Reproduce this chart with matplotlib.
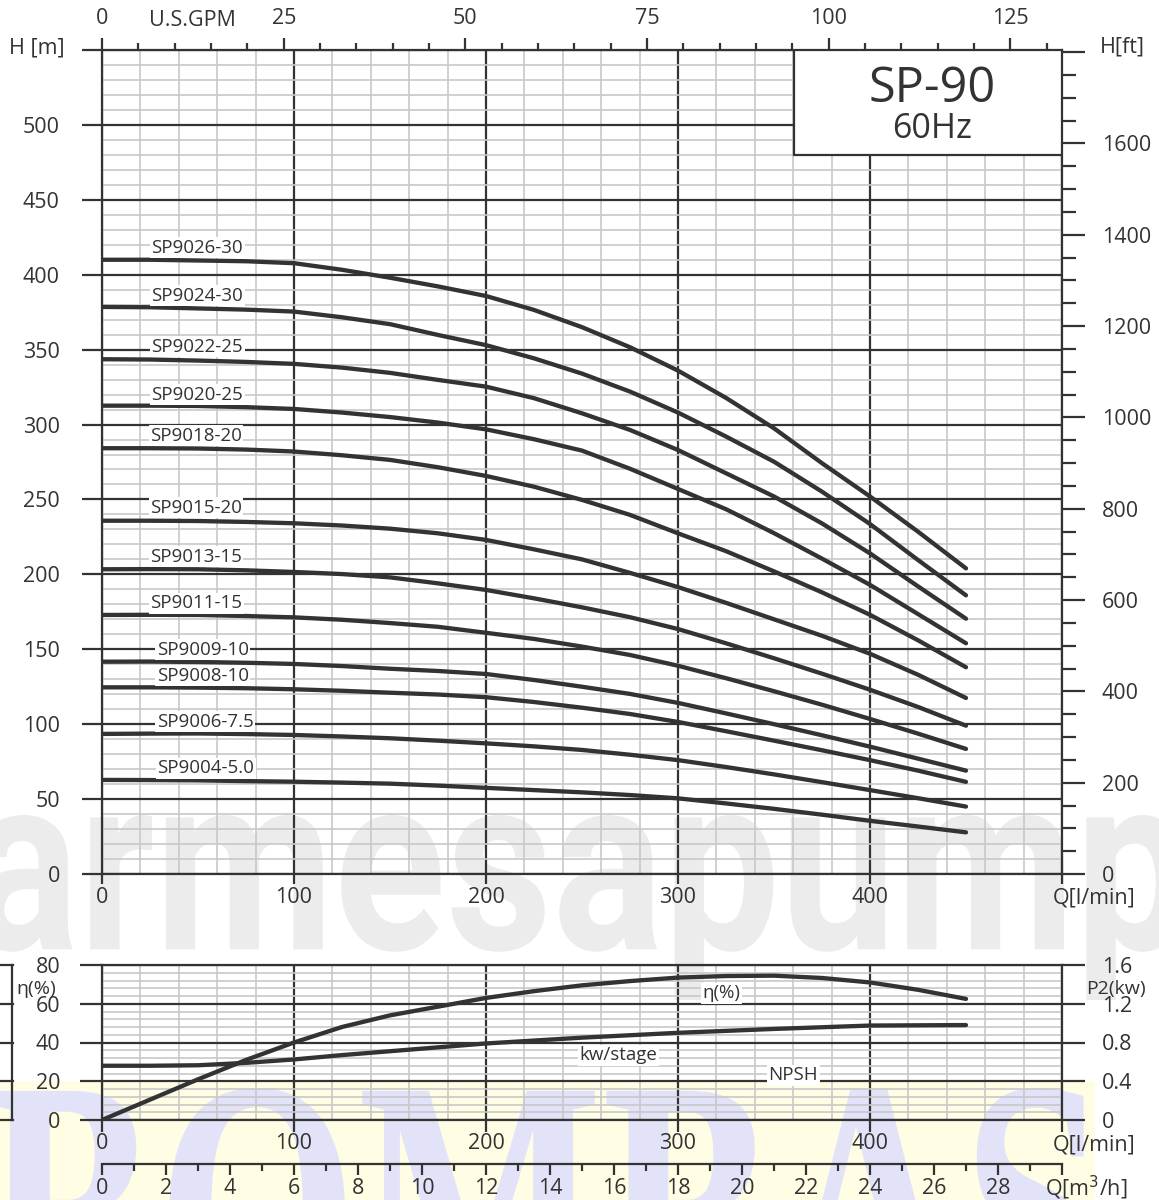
import matplotlib
matplotlib.use('Agg')
import matplotlib.pyplot as plt
from matplotlib.ticker import MultipleLocator, FixedLocator, FuncFormatter
from matplotlib.textpath import TextPath
from matplotlib.font_manager import FontProperties
from matplotlib.patches import PathPatch, Rectangle
from matplotlib.transforms import Affine2D
from matplotlib.lines import Line2D

plt.rcParams['font.family'] = ['Open Sans', 'DejaVu Sans']

# --- data ----------------------------------------------------------------
q = [0, 25, 50, 75, 100, 125, 150, 175, 200, 225, 250, 275, 300, 325, 350, 375, 400, 425, 450]  # l/min

h_9026_30 = [410, 410, 409.5, 409, 407.7, 403.3, 398, 392.2, 385.8, 376.5, 365, 351.6, 336, 317.8, 297.5, 274.2, 252, 228.5, 204]
h_9024_30 = [378.5, 378.3, 377.5, 376.7, 375.4, 371.6, 367, 359.8, 353, 344.2, 334, 322, 308, 292, 275.2, 255.2, 233.6, 209.6, 186]
h_9022_25 = [343.6, 343.4, 342.7, 341.8, 340.5, 338, 334.5, 329.8, 325.3, 317.6, 307.5, 296.4, 283, 267.5, 252, 234, 214, 192, 170.4]
h_9020_25 = [312.6, 312.6, 312.4, 311.6, 310.4, 308, 305, 301.3, 296.8, 290.2, 282.6, 270.5, 257, 243.5, 227.5, 210.5, 193, 173.5, 154]
h_9018_20 = [284.2, 284.2, 284, 283.3, 282, 279.5, 276.4, 271.5, 265.7, 258.5, 249.7, 239.7, 227.4, 215.5, 202, 188, 173, 156, 138]
h_9015_20 = [235.8, 235.8, 235.6, 235, 234.1, 232.6, 230.5, 227.4, 223, 216.7, 210, 201, 191.5, 181, 170, 159, 147, 133, 117.5]
h_9013_15 = [203.4, 203.5, 203.4, 202.7, 201.6, 200.2, 198, 194, 189.6, 184, 178, 171.4, 163.5, 154, 144, 133.7, 123, 111.5, 99]
h_9011_15 = [172.9, 173, 172.9, 172.2, 171.3, 169.7, 167.5, 165, 161, 156.9, 151.8, 146.2, 139, 130.7, 122, 113, 103.5, 93.7, 83.5]
h_9009_10 = [141.7, 141.8, 141.5, 141, 140.2, 138.8, 137, 135.5, 133.5, 129.5, 125, 120.2, 114.2, 107.2, 100, 92.6, 85, 77, 69]
h_9008_10 = [124.6, 124.6, 124.4, 124, 123.3, 122.3, 121, 119.8, 118, 114.8, 111, 106.8, 101.5, 95.3, 89, 82.6, 76, 69, 61.5]
h_9006_75 = [93.5, 93.7, 93.8, 93.4, 92.8, 91.8, 90.6, 89, 87.2, 85.2, 82.8, 79.6, 76, 71.4, 66.5, 61.3, 56, 50.6, 45]
h_9004_50 = [62.8, 62.7, 62.5, 62, 61.6, 61, 60.3, 59, 57.5, 56, 54.5, 52.7, 50.5, 47.1, 43.5, 39.6, 35.5, 31.7, 27.8]

models = ['SP9026-30', 'SP9024-30', 'SP9022-25', 'SP9020-25', 'SP9018-20',
          'SP9015-20', 'SP9013-15', 'SP9011-15', 'SP9009-10', 'SP9008-10',
          'SP9006-7.5', 'SP9004-5.0']
heads = [h_9026_30, h_9024_30, h_9022_25, h_9020_25, h_9018_20, h_9015_20,
         h_9013_15, h_9011_15, h_9009_10, h_9008_10, h_9006_75, h_9004_50]

eta_q = [0, 25, 50, 75, 100, 125, 150, 175, 200, 225, 250, 275, 300, 325, 350, 375, 400, 425, 450]
eta = [0, 10.5, 21, 31, 40, 48, 54, 58.5, 63, 66.5, 69.5, 71.7, 73.5, 74.3, 74.5, 73.3, 71, 67.2, 62.5]

kw_q = [0, 25, 50, 75, 100, 125, 150, 175, 200, 250, 300, 350, 400, 450]
kw = [0.56, 0.56, 0.565, 0.59, 0.625, 0.67, 0.71, 0.75, 0.79, 0.85, 0.90, 0.94, 0.975, 0.98]

gpm_major = [0, 25, 50, 75, 100, 125]
LPM_PER_GPM = 3.785411784
FT_PER_M = 3.28084

# label anchors (Q, H) for the curve names
label_pos = [(25.8, 414.8), (25.8, 382.5), (25.8, 348.7), (25.8, 316.4),
             (25, 289.3), (25, 241.2), (25, 208.5), (25, 177.4),
             (28.5, 146.2), (28.5, 129), (28.5, 98.3), (28.8, 67.2)]

# --- figure -----------------------------------------------------------------
W, H = 1159, 1200
DARK = '#333333'
LIGHT = '#c8c8c8'
fig = plt.figure(figsize=(W / 100, H / 100), dpi=100)


def fx(px):
    return px / W


def fy(py):
    return 1 - py / H


def stamp(text, family, weight, x0, y0, width, height, color, z):
    # big watermark text squeezed into a pixel box (x0, y0 = top-left)
    tp = TextPath((0, 0), text, size=100, prop=FontProperties(family=family, weight=weight))
    bb = tp.get_extents()
    tr = Affine2D().translate(-bb.x0, -bb.y0).scale(width / bb.width, height / bb.height) \
        .translate(x0, H - y0 - height)
    fig.add_artist(PathPatch(tp, transform=tr, fc=color, ec='none', zorder=z))


# watermarks behind everything
stamp('armesapump', 'Roboto', 'bold', -25, 815, 1210, 185, '#ececec', -3)
fig.add_artist(Rectangle((0, 0), fx(1095), fy(1081), transform=fig.transFigure,
                         fc='#fffde3', ec='none', zorder=-2))
stamp('BOMBAS', 'Liberation Serif', 'bold', -12, 1088, 1107, 260, '#e2e3f8', -1)

# --- main H-Q chart -----------------------------------------------------------
ax = fig.add_axes([fx(102), fy(874), fx(1062) - fx(102), fy(50) - fy(874)])
ax.patch.set_alpha(0)
ax.set_xlim(0, 500)
ax.set_ylim(0, 550)
ax.set_axisbelow(True)
ax.xaxis.set_major_locator(MultipleLocator(100))
ax.xaxis.set_minor_locator(MultipleLocator(20))
ax.yaxis.set_major_locator(MultipleLocator(50))
ax.yaxis.set_minor_locator(MultipleLocator(10))
ax.grid(which='minor', color=LIGHT, lw=1.2)
ax.grid(which='major', color=DARK, lw=1.6)
ax.xaxis.set_major_formatter(FuncFormatter(lambda v, p: '' if v >= 500 else f'{v:.0f}'))
ax.yaxis.set_major_formatter(FuncFormatter(lambda v, p: '' if v > 500 else f'{v:.0f}'))
ax.tick_params(axis='y', which='major', length=14.4, width=1.6, color=DARK, pad=16,
               labelsize=15.5, labelcolor=DARK)
ax.tick_params(axis='x', which='major', length=7.5, width=1.6, color=DARK, pad=2,
               labelsize=15.5, labelcolor=DARK)
ax.tick_params(which='minor', length=0)
for s in ax.spines.values():
    s.set_color(DARK)
    s.set_linewidth(1.6)

for name, h, (lx, ly) in zip(models, heads, label_pos):
    ax.plot(q, h, color=DARK, lw=3.1, solid_capstyle='round', solid_joinstyle='round', zorder=3)
    ax.text(lx, ly, name, fontsize=13.5, color=DARK, ha='left', va='baseline', zorder=4,
            bbox=dict(boxstyle='square,pad=0.08', fc='white', ec='none'))

# model box
ax.add_patch(Rectangle((360.4, 480), 139.6, 70, fc='white', ec=DARK, lw=1.6, zorder=2.6))
ax.text(432.3, 515.4, 'SP-90', fontsize=35, color=DARK, ha='center', va='baseline', zorder=4)
ax.text(432.3, 491.3, '60Hz', fontsize=24.5, color=DARK, ha='center', va='baseline', zorder=4)

# top U.S.GPM scale
axt = ax.twiny()
axt.set_xlim(0, 500)
axt.xaxis.set_major_locator(FixedLocator([g * LPM_PER_GPM for g in gpm_major]))
axt.xaxis.set_major_formatter(FuncFormatter(lambda v, p: f'{v / LPM_PER_GPM:.0f}'))
axt.xaxis.set_minor_locator(FixedLocator([g * LPM_PER_GPM for g in range(0, 131, 5)]))
axt.tick_params(axis='x', which='major', length=9, width=1.6, color=DARK, pad=6,
                labelsize=15.5, labelcolor=DARK)
axt.tick_params(axis='x', which='minor', length=5, width=1.6, color=DARK)
for s in axt.spines.values():
    s.set_visible(False)

# right H[ft] scale
axr = ax.twinx()
axr.set_ylim(0, 550 * FT_PER_M)
axr.yaxis.set_major_locator(MultipleLocator(200))
axr.yaxis.set_minor_locator(MultipleLocator(50))
axr.yaxis.set_major_formatter(FuncFormatter(lambda v, p: '' if v > 1700 else f'{v:.0f}'))
axr.tick_params(axis='y', which='major', length=16.5, width=1.6, color=DARK, pad=12,
                labelsize=15.5, labelcolor=DARK)
axr.tick_params(axis='y', which='minor', length=10, width=1.6, color=DARK)
for s in axr.spines.values():
    s.set_visible(False)

fig.text(fx(37), fy(48), 'H [m]', fontsize=15.5, color=DARK, ha='center', va='center')
fig.text(fx(192), fy(20), 'U.S.GPM', fontsize=15.5, color=DARK, ha='center', va='center')
fig.text(fx(1122), fy(47), 'H[ft]', fontsize=15.5, color=DARK, ha='center', va='center')
fig.text(fx(1094), fy(898), 'Q[l/min]', fontsize=15.5, color=DARK, ha='center', va='center')

# --- lower efficiency / power chart ----------------------------------------
ax2 = fig.add_axes([fx(102), fy(1120), fx(1062) - fx(102), fy(965) - fy(1120)])
ax2.patch.set_alpha(0)
ax2.set_xlim(0, 500)
ax2.set_ylim(0, 80)
ax2.set_axisbelow(True)
ax2.xaxis.set_major_locator(MultipleLocator(100))
ax2.xaxis.set_minor_locator(MultipleLocator(20))
ax2.yaxis.set_major_locator(MultipleLocator(20))
ax2.yaxis.set_minor_locator(MultipleLocator(4))
ax2.grid(which='minor', color=LIGHT, lw=1.2)
ax2.grid(which='major', color=DARK, lw=1.6)
ax2.xaxis.set_major_formatter(FuncFormatter(lambda v, p: '' if v >= 500 else f'{v:.0f}'))
ax2.tick_params(axis='y', which='major', length=16, width=1.6, color=DARK, pad=14,
                labelsize=15.5, labelcolor=DARK)
ax2.tick_params(axis='x', which='major', length=8.5, width=1.6, color=DARK, pad=1,
                labelsize=15.5, labelcolor=DARK)
ax2.tick_params(which='minor', length=0)
for s in ax2.spines.values():
    s.set_color(DARK)
    s.set_linewidth(1.6)

ax2.plot(eta_q, eta, color=DARK, lw=3.1, solid_capstyle='round', solid_joinstyle='round', zorder=3)

ax2r = ax2.twinx()
ax2r.set_ylim(0, 1.6)
ax2r.yaxis.set_major_locator(MultipleLocator(0.4))
ax2r.yaxis.set_major_formatter(FuncFormatter(lambda v, p: '0' if v == 0 else f'{v:.1f}'))
ax2r.tick_params(axis='y', which='major', length=16.5, width=1.6, color=DARK, pad=12,
                 labelsize=15.5, labelcolor=DARK)
for s in ax2r.spines.values():
    s.set_visible(False)
ax2r.plot(kw_q, kw, color=DARK, lw=3.1, solid_capstyle='round', solid_joinstyle='round', zorder=3)

lbl_box = dict(boxstyle='square,pad=0.08', fc='white', ec='none')
ax2r.text(322.5, 1.31, 'η(%)', fontsize=13.5, color=DARK, ha='center', va='center', bbox=lbl_box)
ax2r.text(268.8, 0.67, 'kw/stage', fontsize=13.5, color=DARK, ha='center', va='center', bbox=lbl_box)
ax2r.text(360, 0.464, 'NPSH', fontsize=13.5, color=DARK, ha='center', va='center', bbox=lbl_box)

fig.text(fx(36), fy(989), 'η(%)', fontsize=14, color=DARK, ha='center', va='center')
fig.text(fx(1116), fy(989), 'P2(kw)', fontsize=14, color=DARK, ha='center', va='center')
fig.text(fx(1094), fy(1145), 'Q[l/min]', fontsize=15.5, color=DARK, ha='center', va='center')

# cropped NPSH scale at far left
for py in [965, 1003.75, 1042.5, 1081.25, 1120]:
    fig.add_artist(Line2D([0, fx(13)], [fy(py), fy(py)], color=DARK, lw=1.6))
fig.add_artist(Line2D([fx(12), fx(12)], [fy(965), fy(1120)], color=DARK, lw=1.6))

# m3/h scale
ax3 = fig.add_axes([fx(102), fy(1164), fx(1062) - fx(102), 0.002])
ax3.patch.set_alpha(0)
ax3.set_xlim(0, 30)
ax3.set_yticks([])
for k in ['top', 'left', 'right']:
    ax3.spines[k].set_visible(False)
ax3.spines['bottom'].set_color(DARK)
ax3.spines['bottom'].set_linewidth(1.6)
ax3.xaxis.set_major_locator(MultipleLocator(2))
ax3.xaxis.set_minor_locator(MultipleLocator(1))
ax3.xaxis.set_major_formatter(FuncFormatter(lambda v, p: '' if v >= 30 else f'{v:.0f}'))
ax3.tick_params(axis='x', which='major', length=8, width=1.6, color=DARK, pad=2,
                labelsize=15.5, labelcolor=DARK)
ax3.tick_params(axis='x', which='minor', length=5, width=1.6, color=DARK)
fig.text(fx(1086), fy(1188), 'Q[m$^3$/h]', fontsize=15.5, color=DARK, ha='center', va='center')

fig.savefig('out.png', dpi=100)
